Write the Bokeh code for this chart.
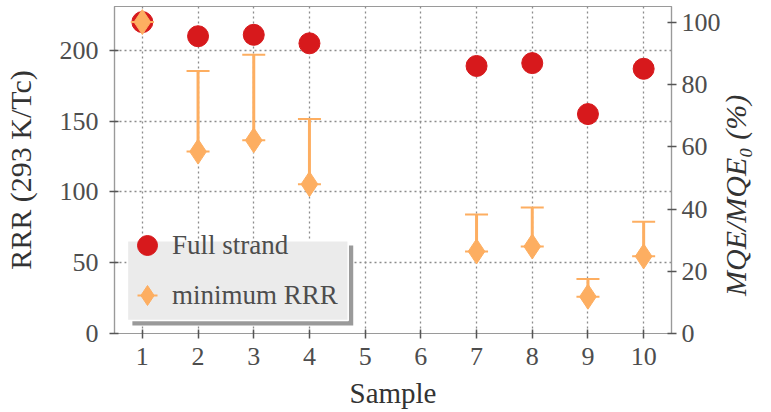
import math
from bokeh.plotting import figure
from bokeh.models import (Range1d, LinearAxis, FixedTicker, Legend, LegendItem,
                          ColumnDataSource, BoxAnnotation)
from bokeh.embed import file_html
from bokeh.resources import INLINE

samples = [1, 2, 3, 4, 7, 8, 9, 10]
full_strand = [220, 210, 211, 205, 189, 191, 155, 187]
min_rrr = [220, 128.5, 136.5, 105.5, 58, 61.5, 26, 54.5]
min_rrr_upper = [220, 185.5, 197, 151.5, 84, 89, 38.5, 79]

x_ticks = list(range(1, 11))
left_ticks = [0, 50, 100, 150, 200]
right_ticks = [0, 20, 40, 60, 80, 100]

RED = "#d7191c"
ORANGE = "#fdae61"
TXT = "#4d4d4d"
AX = "#9a9a9a"
FONT = "Liberation Serif"

p = figure(width=771, height=412, output_backend="svg", toolbar_location=None,
           x_range=Range1d(0.5, 10.5), y_range=Range1d(0, 231),
           min_border_left=113, min_border_right=96, min_border_top=6,
           min_border_bottom=79)
p.extra_y_ranges = {"right": Range1d(0, 105.1)}
p.background_fill_color = "white"
p.border_fill_color = "white"
p.outline_line_color = AX
p.outline_line_width = 1.2

src = ColumnDataSource(dict(x=samples, full=full_strand, lo=min_rrr, hi=min_rrr_upper))

r_full = p.scatter("x", "full", source=src, marker="circle", size=21,
                   fill_color=RED, line_color=RED)
r_seg = p.segment(x0="x", y0="lo", x1="x", y1="hi", source=src,
                  line_color=ORANGE, line_width=3)
r_cap_hi = p.scatter("x", "hi", source=src, marker="dash", size=23,
                     line_color=ORANGE, line_width=2)
r_cap_lo = p.scatter("x", "lo", source=src, marker="dash", size=23,
                     line_color=ORANGE, line_width=2)
r_dia = p.scatter("x", "lo", source=src, marker="diamond", size=25,
                  fill_color=ORANGE, line_color=ORANGE)

# legend frame: shadow + light box (the Legend itself is transparent)
shadow = BoxAnnotation(left=0.821, right=4.786, top=62.1, bottom=5.6,
                       fill_color="#9a9a9a", fill_alpha=1.0, line_color=None)
box = BoxAnnotation(left=0.732, right=4.696, top=65.6, bottom=9.2,
                    fill_color="#ebebeb", fill_alpha=1.0, line_color="white",
                    line_width=1.5, line_alpha=1.0)
p.add_layout(shadow)
p.add_layout(box)

# axes
p.xaxis.ticker = FixedTicker(ticks=x_ticks)
p.yaxis.ticker = FixedTicker(ticks=left_ticks)
p.xaxis.axis_label = "Sample"
p.yaxis.axis_label = "RRR (293 K/Tc)"

right = LinearAxis(y_range_name="right", ticker=FixedTicker(ticks=right_ticks),
                   axis_label="\u00a0" * 5 + "MQE/MQE\u2080 (%)")
p.add_layout(right, "right")

for ax in [p.xaxis[0], p.yaxis[0], right]:
    ax.axis_line_color = AX
    ax.axis_line_width = 1.2
    ax.major_tick_line_color = "#555555"
    ax.major_tick_line_width = 1.5
    ax.major_tick_in = 4
    ax.major_tick_out = 5
    ax.minor_tick_line_color = None
    ax.major_label_text_font = FONT
    ax.major_label_text_font_size = "26px"
    ax.major_label_text_color = TXT
    ax.axis_label_text_font = FONT
    ax.axis_label_text_font_size = "30px"
    ax.axis_label_text_color = "#333333"
    ax.axis_label_text_font_style = "normal"
p.yaxis.major_label_standoff = 11
p.yaxis.axis_label_standoff = 20
p.xaxis.major_label_standoff = 9
p.xaxis.axis_label_standoff = 9
p.xaxis.axis_label_text_font_size = "29px"
right.major_label_standoff = 5
right.axis_label_standoff = 12
right.axis_label_text_font_style = "italic"
# read bottom-to-top, starting near the bottom of the frame
right.axis_label_orientation = math.pi / 2
right.axis_label_align = "start"

p.xgrid.ticker = FixedTicker(ticks=x_ticks)
for g in [p.xgrid[0], p.ygrid[0]]:
    g.grid_line_color = "#8c8c8c"
    g.grid_line_dash = "2 3"
    g.grid_line_width = 1.3

legend = Legend(items=[LegendItem(label="Full strand", renderers=[r_full]),
                       LegendItem(label="minimum RRR", renderers=[r_cap_hi, r_dia])],
                location=(8, 13))
legend.background_fill_alpha = 0.0
legend.border_line_color = None
legend.label_text_font = FONT
legend.label_text_font_size = "27px"
legend.label_text_color = TXT
legend.glyph_width = 50
legend.glyph_height = 50
legend.label_height = 50
legend.spacing = -20
legend.padding = 0
legend.margin = 0
legend.label_standoff = 0
p.add_layout(legend, "center")

open("out.html", "w").write(file_html(p, INLINE))
